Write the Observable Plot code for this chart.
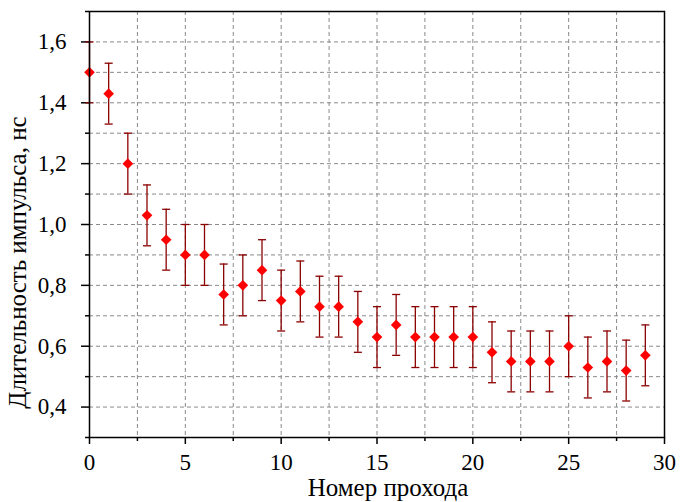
<!DOCTYPE html>
<html>
<head>
<meta charset="utf-8">
<script src="https://cdn.jsdelivr.net/npm/d3@7"></script>
<script src="https://cdn.jsdelivr.net/npm/@observablehq/plot@0.6"></script>
<style>
  html, body { margin: 0; padding: 0; background: #fff; }
  svg { display: block; }
</style>
</head>
<body>
<div id="chart"></div>
<script>
const passes = [0,1,2,3,4,5,6,7,8,9,10,11,12,13,14,15,16,17,18,19,20,21,22,23,24,25,26,27,28,29];
const durations = [1.50,1.43,1.20,1.03,0.95,0.90,0.90,0.77,0.80,0.85,0.75,0.78,0.73,0.73,0.68,0.63,0.67,0.63,0.63,0.63,0.63,0.58,0.55,0.55,0.55,0.60,0.53,0.55,0.52,0.57];
const errors = [0.10,0.10,0.10,0.10,0.10,0.10,0.10,0.10,0.10,0.10,0.10,0.10,0.10,0.10,0.10,0.10,0.10,0.10,0.10,0.10,0.10,0.10,0.10,0.10,0.10,0.10,0.10,0.10,0.10,0.10];
const xMajorTicks = [0,5,10,15,20,25,30];
const xMinorTicks = [2.5,7.5,12.5,17.5,22.5,27.5];
const yMajorTicks = [0.4,0.6,0.8,1.0,1.2,1.4,1.6];
const yMinorTicks = [0.3,0.5,0.7,0.9,1.1,1.3,1.5,1.7];
const xGrid = [2.5,5,7.5,10,12.5,15,17.5,20,22.5,25,27.5];
const yGrid = [0.4,0.5,0.6,0.7,0.8,0.9,1.0,1.1,1.2,1.3,1.4,1.5,1.6];
const xTitle = "Номер прохода";
const yTitle = "Длительность импульса, нс";

const data = passes.map((p, i) => ({x: p, y: durations[i], lo: durations[i] - errors[i], hi: durations[i] + errors[i]}));
const capHalf = 0.21;
const fmt = d => d.toFixed(1).replace(".", ",");
const serif = "Liberation Serif";

const chart = Plot.plot({
  width: 681,
  height: 502,
  marginLeft: 89,
  marginRight: 17,
  marginTop: 11,
  marginBottom: 65,
  style: {fontFamily: serif, fontSize: "23px", color: "#000", background: "#fff"},
  x: {domain: [0, 30]},
  y: {domain: [0.3, 1.7]},
  marks: [
    Plot.ruleX(xGrid, {stroke: "#8a8a8a", strokeDasharray: "4,3", strokeWidth: 1}),
    Plot.ruleY(yGrid, {stroke: "#8a8a8a", strokeDasharray: "4,3", strokeWidth: 1}),
    Plot.axisX(xMinorTicks, {tickSize: 4, tickFormat: () => "", strokeWidth: 1.5, label: null}),
    Plot.axisX(xMajorTicks, {tickSize: 7, tickPadding: 9, strokeWidth: 1.5, tickFormat: d => String(d),
      fontSize: 23, fill: "#000", label: null}),
    Plot.axisY(yMinorTicks, {tickSize: 4, tickFormat: () => "", strokeWidth: 1.5, label: null}),
    Plot.axisY(yMajorTicks, {tickSize: 8, tickPadding: 15, strokeWidth: 1.5, tickFormat: fmt,
      fontSize: 23, fill: "#000", label: null}),
    Plot.text([xTitle], {frameAnchor: "bottom", textAnchor: "middle", lineAnchor: "middle", dy: 50, dx: 11, fontSize: 25, fill: "#000"}),
    Plot.text([yTitle], {frameAnchor: "left", textAnchor: "middle", lineAnchor: "middle", rotate: -90, dx: -72, dy: 38, fontSize: 25, fill: "#000"}),
    Plot.ruleX(data, {x: "x", y1: "lo", y2: "hi", stroke: "#8b0000", strokeWidth: 1.3}),
    Plot.link(data, {x1: d => d.x - capHalf, x2: d => d.x + capHalf, y1: "hi", y2: "hi", stroke: "#8b0000", strokeWidth: 1.3}),
    Plot.link(data, {x1: d => d.x - capHalf, x2: d => d.x + capHalf, y1: "lo", y2: "lo", stroke: "#8b0000", strokeWidth: 1.3}),
    Plot.dot(data, {x: "x", y: "y", symbol: "diamond2", r: 4.8, fill: "#ff0000", stroke: "none"}),
    Plot.frame({stroke: "#000", strokeWidth: 1.5})
  ]
});
document.getElementById("chart").appendChild(chart);
</script>
</body>
</html>
